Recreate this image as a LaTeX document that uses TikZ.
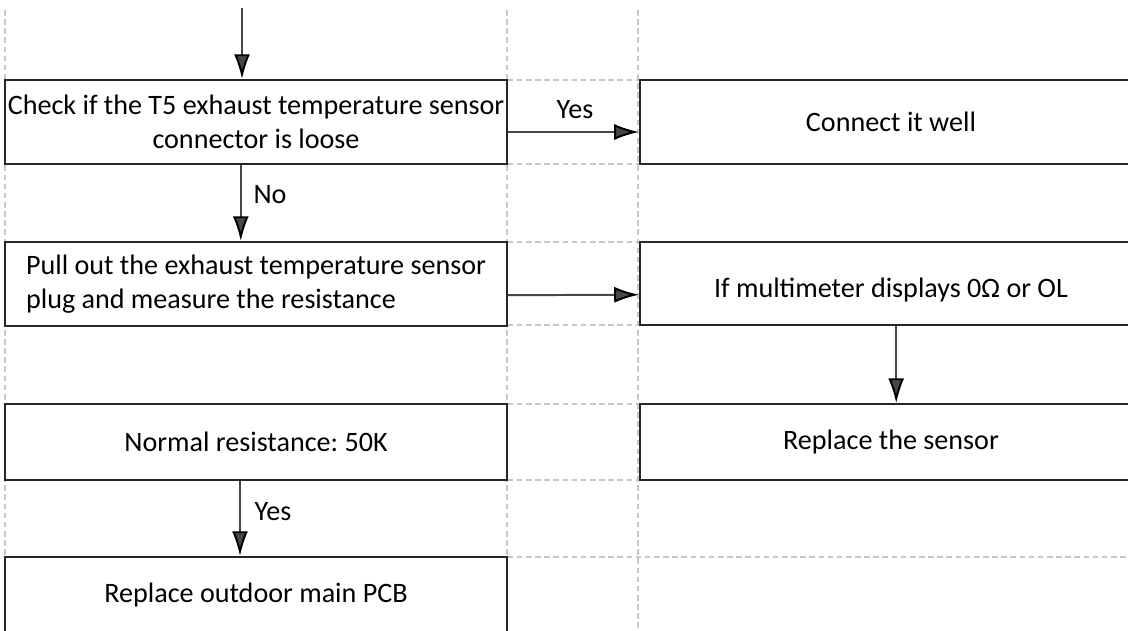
\documentclass[tikz,border=0pt]{standalone}
\usepackage{fontspec}
\setmainfont{Carlito}
\usetikzlibrary{arrows.meta}
\frenchspacing
\begin{document}
\begin{tikzpicture}[x=0.025cm,y=-0.025cm,
    box/.style={rectangle,draw=black!85,line width=1.3pt,fill=white,minimum width=12.55cm,inner sep=0pt,align=center,font=\fontsize{20}{24}\selectfont},
    lbl/.style={inner sep=0pt,font=\fontsize{20}{24}\selectfont},
    arr/.style={color=black!72,line width=1.4pt,-{Latex[length=0.62cm,width=0.4cm,color=black]}},
    gridline/.style={draw=black!22,line width=0.8pt,dash pattern=on 4pt off 2.5pt}]
    \useasboundingbox (0,0) rectangle (1128,630);
    \clip (0,0) rectangle (1128,630);
    % sheet grid
    \foreach \x in {5,507,638} \draw[gridline] (\x,10) -- (\x,630);
    \foreach \y in {80,164,242,325,404,480,557} \draw[gridline] (5,\y) -- (1128,\y);
    % boxes
    \node[box,minimum height=2.1cm] (check) at (256,122) {Check if the T5 exhaust temperature sensor\\connector is loose};
    \node[box,minimum height=2.1cm] (conn) at (891,122) {Connect it well};
    \node[box,minimum height=2.1cm,align=left] (pull) at (256,284) {Pull out the exhaust temperature sensor\\plug and measure the resistance};
    \node[box,minimum height=2.08cm,text height=0.83cm] (meter) at (891,283.5) {If multimeter displays 0Ω or OL};
    \node[box,minimum height=1.9cm] (normal) at (256,442) {Normal resistance: 50K};
    \node[box,minimum height=1.9cm] (sensor) at (891,442) {Replace the sensor};
    \node[box,minimum height=1.9cm] (pcb) at (256,595) {Replace outdoor main PCB};
    \coordinate (start) at (242,8);
    % labels
    \node[lbl] (yes1) at (575,110) {Yes};
    \node[lbl] (no) at (270,195) {No};
    \node[lbl] (yes2) at (273,512) {Yes};
    % arrows
    \path [arr] (start) edge (start |- check.north);
    \path [arr] ([xshift=-0.38cm]check.south) edge ([xshift=-0.38cm]pull.north);
    \path [arr] ([yshift=-0.25cm]check.east) edge ([yshift=-0.25cm]conn.west);
    \path [arr] ([yshift=-0.28cm]pull.east) edge ([yshift=-0.28cm]meter.west);
    \path [arr] ([xshift=0.13cm]meter.south) edge ([xshift=0.13cm]sensor.north);
    \path [arr] ([xshift=-0.4cm]normal.south) edge ([xshift=-0.4cm]pcb.north);
\end{tikzpicture}
\end{document}
